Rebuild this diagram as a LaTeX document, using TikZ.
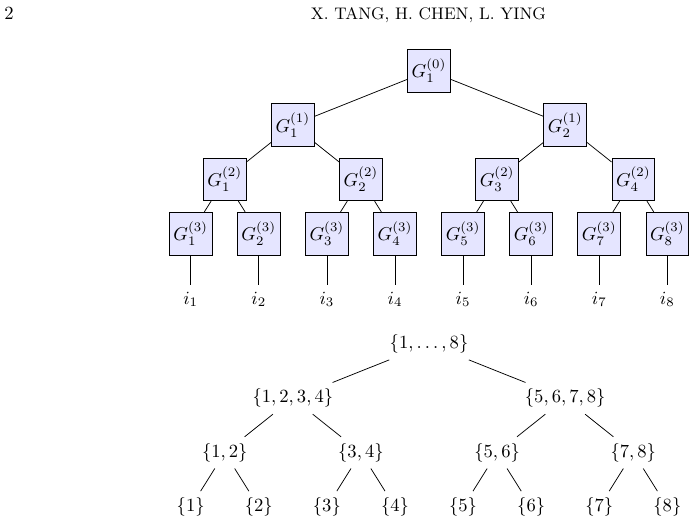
\documentclass[tikz,border=0pt]{standalone}
\usepackage{amsmath, amssymb}
\usepackage{xcolor}
\usepackage{tikz}
\usetikzlibrary{positioning}

\begin{document}
\begin{tikzpicture}[
    node distance=29.2pt and 36.6pt, on grid,
    gbox/.style={rectangle, draw, fill=blue!10, minimum width=23pt, minimum height=23pt, inner sep=1pt},
    idx/.style={inner sep=3.33pt},
    setnode/.style={inner sep=3.33pt},
    edge/.style={draw, black},
]
    \useasboundingbox (-230.6pt,-242.6pt) rectangle (143.5pt,38.0pt);

    % Running head
    \node[anchor=base west, inner sep=0pt] (pagenum) at (-228.5pt,27.3pt) {2};
    \node[anchor=base, inner sep=0pt] (runhead) at (-0.3pt,27.3pt) {\small X. TANG, H. CHEN, L. YING};

    % Upper tree
    \node[gbox] (g0) at (0,0) {$G_1^{(0)}$};
    \node[gbox, below left=29.2pt and 73.2pt of g0] (g11) {$G_1^{(1)}$};
    \node[gbox, below right=29.2pt and 73.2pt of g0] (g12) {$G_2^{(1)}$};

    \node[gbox, below left=of g11] (g21) {$G_1^{(2)}$};
    \node[gbox, below right=of g11] (g22) {$G_2^{(2)}$};
    \node[gbox, below left=of g12] (g23) {$G_3^{(2)}$};
    \node[gbox, below right=of g12] (g24) {$G_4^{(2)}$};

    \node[gbox, below left=29.2pt and 18.3pt of g21] (g31) {$G_1^{(3)}$};
    \node[gbox, below right=29.2pt and 18.3pt of g21] (g32) {$G_2^{(3)}$};
    \node[gbox, below left=29.2pt and 18.3pt of g22] (g33) {$G_3^{(3)}$};
    \node[gbox, below right=29.2pt and 18.3pt of g22] (g34) {$G_4^{(3)}$};
    \node[gbox, below left=29.2pt and 18.3pt of g23] (g35) {$G_5^{(3)}$};
    \node[gbox, below right=29.2pt and 18.3pt of g23] (g36) {$G_6^{(3)}$};
    \node[gbox, below left=29.2pt and 18.3pt of g24] (g37) {$G_7^{(3)}$};
    \node[gbox, below right=29.2pt and 18.3pt of g24] (g38) {$G_8^{(3)}$};

    % Indices under the leaves
    \node[idx, below=35.3pt of g31] (i1) {$i_1$};
    \node[idx, below=35.3pt of g32] (i2) {$i_2$};
    \node[idx, below=35.3pt of g33] (i3) {$i_3$};
    \node[idx, below=35.3pt of g34] (i4) {$i_4$};
    \node[idx, below=35.3pt of g35] (i5) {$i_5$};
    \node[idx, below=35.3pt of g36] (i6) {$i_6$};
    \node[idx, below=35.3pt of g37] (i7) {$i_7$};
    \node[idx, below=35.3pt of g38] (i8) {$i_8$};

    % Lower tree (index sets)
    \node[setnode, below=146.9pt of g0] (s0) {$\{1,\ldots,8\}$};
    \node[setnode, below left=29.2pt and 73.2pt of s0] (s11) {$\{1,2,3,4\}$};
    \node[setnode, below right=29.2pt and 73.2pt of s0] (s12) {$\{5,6,7,8\}$};

    \node[setnode, below left=of s11] (s21) {$\{1,2\}$};
    \node[setnode, below right=of s11] (s22) {$\{3,4\}$};
    \node[setnode, below left=of s12] (s23) {$\{5,6\}$};
    \node[setnode, below right=of s12] (s24) {$\{7,8\}$};

    \node[setnode, below left=29.2pt and 18.3pt of s21] (s31) {$\{1\}$};
    \node[setnode, below right=29.2pt and 18.3pt of s21] (s32) {$\{2\}$};
    \node[setnode, below left=29.2pt and 18.3pt of s22] (s33) {$\{3\}$};
    \node[setnode, below right=29.2pt and 18.3pt of s22] (s34) {$\{4\}$};
    \node[setnode, below left=29.2pt and 18.3pt of s23] (s35) {$\{5\}$};
    \node[setnode, below right=29.2pt and 18.3pt of s23] (s36) {$\{6\}$};
    \node[setnode, below left=29.2pt and 18.3pt of s24] (s37) {$\{7\}$};
    \node[setnode, below right=29.2pt and 18.3pt of s24] (s38) {$\{8\}$};

    % Edges
    \draw[edge] (g0) -- (g11);
    \draw[edge] (g0) -- (g12);
    \draw[edge] (g11) -- (g21);
    \draw[edge] (g11) -- (g22);
    \draw[edge] (g12) -- (g23);
    \draw[edge] (g12) -- (g24);
    \draw[edge] (g21) -- (g31);
    \draw[edge] (g21) -- (g32);
    \draw[edge] (g22) -- (g33);
    \draw[edge] (g22) -- (g34);
    \draw[edge] (g23) -- (g35);
    \draw[edge] (g23) -- (g36);
    \draw[edge] (g24) -- (g37);
    \draw[edge] (g24) -- (g38);
    \draw[edge] (g31) -- (i1);
    \draw[edge] (g32) -- (i2);
    \draw[edge] (g33) -- (i3);
    \draw[edge] (g34) -- (i4);
    \draw[edge] (g35) -- (i5);
    \draw[edge] (g36) -- (i6);
    \draw[edge] (g37) -- (i7);
    \draw[edge] (g38) -- (i8);

    \draw[edge] (s0) -- (s11);
    \draw[edge] (s0) -- (s12);
    \draw[edge] (s11) -- (s21);
    \draw[edge] (s11) -- (s22);
    \draw[edge] (s12) -- (s23);
    \draw[edge] (s12) -- (s24);
    \draw[edge] (s21) -- (s31);
    \draw[edge] (s21) -- (s32);
    \draw[edge] (s22) -- (s33);
    \draw[edge] (s22) -- (s34);
    \draw[edge] (s23) -- (s35);
    \draw[edge] (s23) -- (s36);
    \draw[edge] (s24) -- (s37);
    \draw[edge] (s24) -- (s38);
\end{tikzpicture}
\end{document}
